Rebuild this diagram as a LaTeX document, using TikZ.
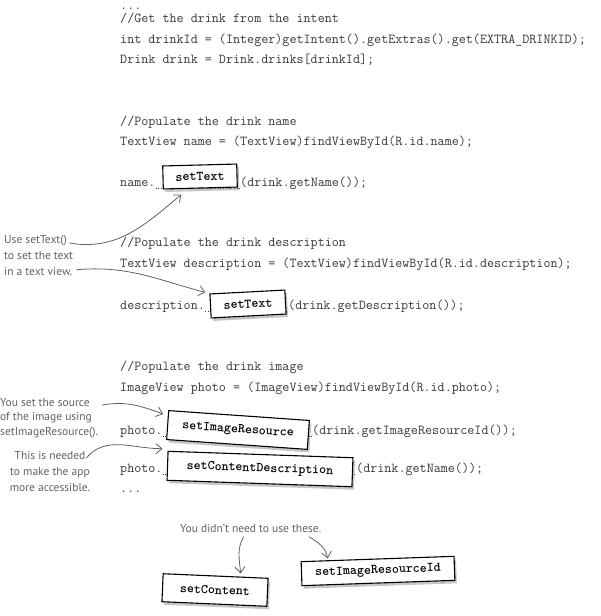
\documentclass[tikz,border=0pt]{standalone}
\usepackage{fontspec}
\newfontfamily\handfont{PT Sans}
\usetikzlibrary{arrows.meta,shadows}
\colorlet{Code}{black!78}
\colorlet{Note}{black!62}

\begin{document}
\begin{tikzpicture}[
  x=1pt, y=-1pt,
  codeline/.style={anchor=base west, inner sep=0pt, text=Code,
    font=\ttfamily\fontsize{13.7}{15}\selectfont},
  method/.style={draw, line width=1.1pt, fill=white, inner sep=0pt,
    font=\ttfamily\bfseries\fontsize{13.3}{15}\selectfont,
    drop shadow={shadow xshift=2pt, shadow yshift=-3pt, opacity=.45}},
  note/.style={inner sep=0pt, text=Note, align=left,
    font=\handfont\fontsize{11.5}{16}\selectfont},
  pointer/.style={draw=Note, line width=.8pt,
    -{Straight Barb[length=6pt,width=10pt]}},
  blank/.style={Code, dotted, line width=.7pt}
  ]
\useasboundingbox (0,0) rectangle (600,616);
\path
  (120,9) node[codeline] (dotsTop) {...}
  (120,22) node[codeline] (getCmt) {//Get the drink from the intent}
  (120,43) node[codeline] (getId) {int drinkId = (Integer)getIntent().getExtras().get(EXTRA\_DRINKID);}
  (120,63) node[codeline] (getDrink) {Drink drink = Drink.drinks[drinkId];}
  (120,125) node[codeline] (nameCmt) {//Populate the drink name}
  (120,145) node[codeline] (nameView) {TextView name = (TextView)findViewById(R.id.name);}
  (120,186) node[codeline] (nameL) {name.}
  (240,186) node[codeline] (nameR) {(drink.getName());}
  (120,246) node[codeline] (descCmt) {//Populate the drink description}
  (120,267) node[codeline] (descView) {TextView description = (TextView)findViewById(R.id.description);}
  (120,309) node[codeline] (descL) {description.}
  (288,309) node[codeline] (descR) {(drink.getDescription());}
  (120,370) node[codeline] (photoCmt) {//Populate the drink image}
  (120,391) node[codeline] (photoView) {ImageView photo = (ImageView)findViewById(R.id.photo);}
  (120,434) node[codeline] (imgL) {photo.}
  (312,434) node[codeline] (imgR) {(drink.getImageResourceId());}
  (120,472) node[codeline] (cdL) {photo.}
  (356,472) node[codeline] (cdR) {(drink.getName());}
  (120,492) node[codeline] (dotsEnd) {...}
  ;
% the blanks to fill in
\foreach \l/\r in {nameL/nameR, descL/descR, imgL/imgR, cdL/cdR}
  \draw[blank] ([yshift=-2pt]\l.base east) -- ([yshift=-2pt]\r.base west);

% the magnets
\node[method, minimum width=74pt, minimum height=23pt, rotate=1.5] (setTextA) at (200,176.5) {setText};
\node[method, minimum width=75pt, minimum height=24pt, rotate=3] (setTextB) at (248,304) {setText};
\node[method, minimum width=141pt, minimum height=29pt, rotate=-4] (imgRes) at (238,430) {setImageResource};
\node[method, minimum width=185pt, minimum height=29pt, rotate=-2] (contDesc) at (260,469) {setContentDescription};
\node[method, minimum width=105pt, minimum height=28pt, rotate=-2.5] (setCont) at (215,590) {setContent};
\node[method, minimum width=153pt, minimum height=24pt, rotate=2] (resId) at (378,571) {setImageResourceId};

% handwritten notes
\node[note, anchor=north west] (textNote) at (4,235) {Use setText()\\to set the text\\in a text view.};
\node[note, anchor=north west, font=\handfont\fontsize{11.5}{14.5}\selectfont] (srcNote) at (0,398)
  {You set the source\\of the image using\\setImageResource().};
\node[note, anchor=north, align=center] (accNote) at (50,451) {This is needed\\to make the app\\more accessible.};
\node[note, anchor=north west] (skipNote) at (180,524) {You didn’t need to use these.};

\draw[pointer] ([shift={(-4,8)}]textNote.north east) to[out=-10, in=220] ([shift={(-19,6)}]setTextA.south);
\draw[pointer] ([shift={(3,-6)}]textNote.south east) to[out=5, in=165] ([shift={(-4,-1)}]setTextB.north west);
\draw[pointer] ([shift={(4,7)}]srcNote.north east) to[out=10, in=160] ([shift={(-5,4)}]imgRes.north west);
\draw[pointer] ([shift={(-4,7)}]accNote.north east) to[out=50, in=180] ([shift={(-5,-2)}]contDesc.north west);
\draw[pointer] ([shift={(-7,4)}]skipNote.south) to[out=-120, in=95] ([shift={(25,-2)}]setCont.north);
\draw[pointer] ([shift={(58,4)}]skipNote.south) to[out=-30, in=100] ([shift={(-50,0)}]resId.north);
\end{tikzpicture}
\end{document}
